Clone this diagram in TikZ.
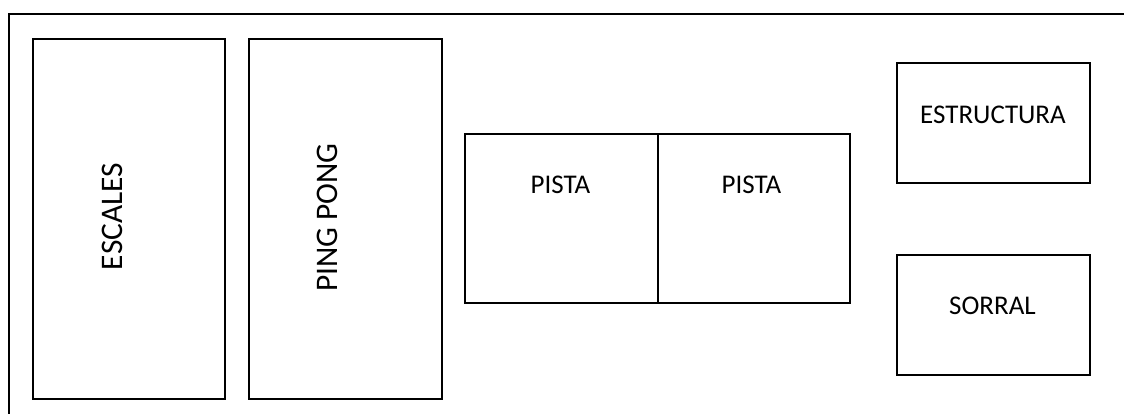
\documentclass[tikz,border=0pt]{standalone}
\usepackage{fontspec}
\setmainfont{Carlito}
\begin{document}
\begin{tikzpicture}[x=1pt,y=-1pt,
  zone/.style={draw=black,line width=1.8pt,rectangle,inner sep=0pt,anchor=north west},
  lbl/.style={inner sep=0pt,font=\fontsize{27}{30}\selectfont},
  vlbl/.style={inner sep=0pt,rotate=90,font=\fontsize{31.4}{36}\selectfont}]
\useasboundingbox (0,0) rectangle (1124,414);
\draw[line width=1.7pt] (9,430) -- (9,14) -- (1140,14);
\node[zone,minimum width=192pt,minimum height=360pt] (escales) at (32,38) {};
\node[zone,minimum width=193pt,minimum height=360pt] (pingpong) at (248,38) {};
\node[zone,minimum width=193pt,minimum height=169pt] (pista1) at (464,133) {};
\node[zone,minimum width=192pt,minimum height=169pt] (pista2) at (657,133) {};
\node[zone,minimum width=193pt,minimum height=120pt] (estructura) at (896,62) {};
\node[zone,minimum width=193pt,minimum height=120pt] (sorral) at (896,254) {};
\node[vlbl] (tescales) at (112,216.5) {ESCALES};
\node[vlbl] (tpingpong) at (327,217.5) {PING PONG};
\node[lbl] (tpista1) at (560.5,185.3) {PISTA};
\node[lbl] (tpista2) at (751.5,185.3) {PISTA};
\node[lbl] (testructura) at (993,114.7) {ESTRUCTURA};
\node[lbl] (tsorral) at (992.5,306) {SORRAL};
\end{tikzpicture}
\end{document}
